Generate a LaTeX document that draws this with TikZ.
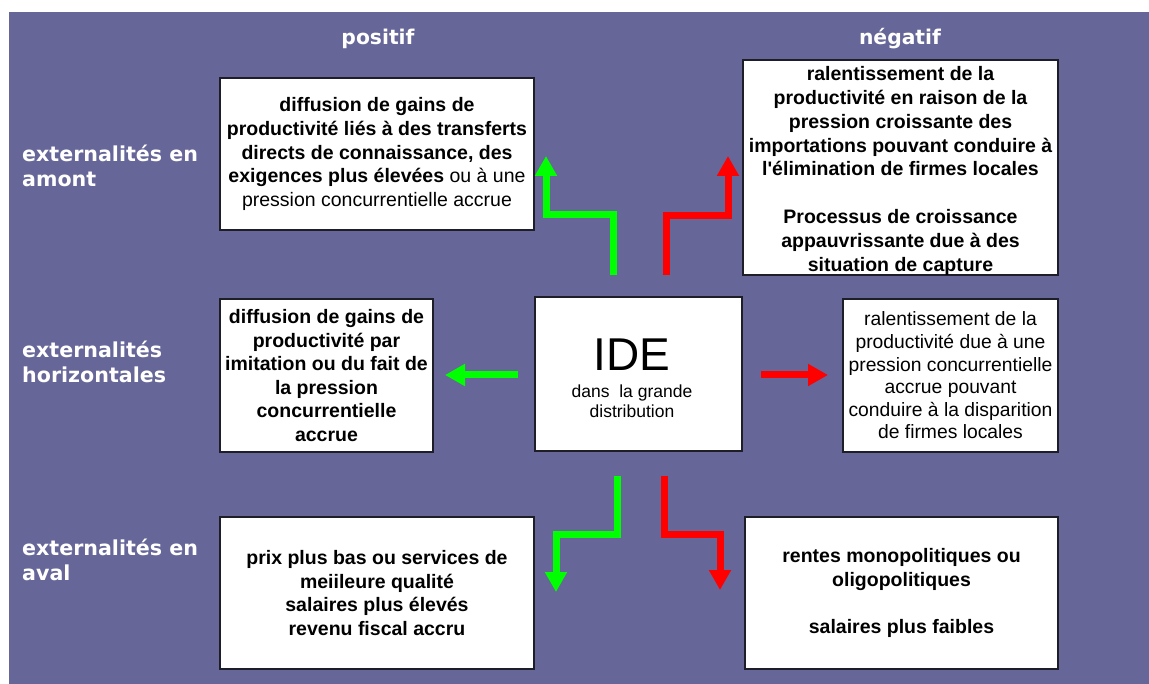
\documentclass[tikz,border=0pt]{standalone}
\usepackage{fontspec}
\setmainfont{Liberation Sans}
\newfontfamily\labelfont{DejaVu Sans}
\usetikzlibrary{arrows.meta}
\definecolor{bgpurple}{RGB}{102,102,153}
\definecolor{arrgreen}{RGB}{0,255,0}
\definecolor{arrred}{RGB}{255,0,0}
\definecolor{boxline}{RGB}{30,30,40}
\begin{document}
\begin{tikzpicture}[x=1pt,y=-1pt,
  box/.style={draw=boxline, line width=1.5pt, fill=white, inner sep=0pt, align=center,
    font=\fontsize{19.5}{23.6}\selectfont\bfseries, text=black},
  regbox/.style={box, font=\fontsize{19.3}{22.6}\selectfont\mdseries},
  lbl/.style={text=white, font=\fontsize{20.6}{25}\labelfont\bfseries, inner sep=0pt, anchor=base west},
  hdr/.style={text=white, font=\fontsize{20.3}{25}\labelfont\bfseries, inner sep=0pt, anchor=base},
  garrow/.style={draw=arrgreen, line width=7pt, line join=miter, -{Triangle[width=21pt,length=20pt]}},
  rarrow/.style={draw=arrred, line width=7pt, line join=miter, -{Triangle[width=21pt,length=20pt]}}
]
\useasboundingbox (0,0) rectangle (1149,684);
\fill[bgpurple] (9,12) rectangle (1149,684);

% headers
\node[hdr] (hpos) at (378,45) {positif};
\node[hdr] (hneg) at (900,45) {négatif};

% row labels
\node[lbl] (l1a) at (22,162) {externalités en};
\node[lbl] (l1b) at (22,187) {amont};
\node[lbl] (l2a) at (22,358) {externalités};
\node[lbl] (l2b) at (22,383) {horizontales};
\node[lbl] (l3a) at (22,555) {externalités en};
\node[lbl] (l3b) at (22,580) {aval};

% boxes
\node[box, minimum width=314pt, minimum height=152pt] (tl) at (377,154)
  {diffusion de gains de\\productivité liés à des transferts\\directs de connaissance, des\\exigences plus élevées {\mdseries ou à une}\\{\mdseries pression concurrentielle accrue}};
\node[box, minimum width=315pt, minimum height=215pt, font=\fontsize{19.5}{23.8}\selectfont\bfseries] (tr) at (900.5,167.5)
  {\rule{0pt}{21pt}ralentissement de la\\productivité en raison de la\\pression croissante des\\importations pouvant conduire à\\l\textquotesingle élimination de firmes locales\\[23.8pt]Processus de croissance\\appauvrissante due à des\\situation de capture};
\node[box, minimum width=213pt, minimum height=153pt] (ml) at (326.5,375.5)
  {diffusion de gains de\\productivité par\\imitation ou du fait de\\la pression\\concurrentielle\\accrue};
\node[box, minimum width=207pt, minimum height=154pt] (ctr) at (638.5,374) {};
\node[regbox, minimum width=215pt, minimum height=153pt] (mr) at (950.5,375.5)
  {ralentissement de la\\productivité due à une\\pression concurrentielle\\accrue pouvant\\conduire à la disparition\\de firmes locales};
\node[box, minimum width=314pt, minimum height=152pt] (bl) at (377,593)
  {prix plus bas ou services de\\meiileure qualité\\salaires plus élevés\\revenu fiscal accru};
\node[box, minimum width=313pt, minimum height=152pt] (br) at (901.5,593)
  {rentes monopolitiques ou\\oligopolitiques\\[23.6pt]salaires plus faibles};

% centre text
\node[inner sep=0pt, anchor=base, font=\fontsize{46}{46}\selectfont] (ide) at (632,370.5) {IDE};
\node[inner sep=0pt, anchor=base, font=\fontsize{17.5}{20}\selectfont] (ide2) at (632,398) {dans\ \ la grande};
\node[inner sep=0pt, anchor=base, font=\fontsize{17.5}{20}\selectfont] (ide3) at (632,418) {distribution};

% arrow coordinates
\coordinate (gu0) at (613,275); \coordinate (gu1) at (613,215);
\coordinate (gu2) at (546,215); \coordinate (gu3) at (546,156);
\coordinate (ru0) at (666,275); \coordinate (ru1) at (666,216);
\coordinate (ru2) at (728,216); \coordinate (ru3) at (728,156);
\coordinate (gd0) at (617,476); \coordinate (gd1) at (617,534);
\coordinate (gd2) at (556,534); \coordinate (gd3) at (556,592);
\coordinate (rd0) at (664,476); \coordinate (rd1) at (664,534);
\coordinate (rd2) at (720,534); \coordinate (rd3) at (720,590);
\coordinate (gl0) at (518,375); \coordinate (gl1) at (445,375);
\coordinate (rr0) at (761,375); \coordinate (rr1) at (828,375);

\draw[garrow] (gu0) -- (gu1) -- (gu2) -- (gu3);
\draw[rarrow] (ru0) -- (ru1) -- (ru2) -- (ru3);
\draw[garrow] (gd0) -- (gd1) -- (gd2) -- (gd3);
\draw[rarrow] (rd0) -- (rd1) -- (rd2) -- (rd3);
\draw[garrow] (gl0) -- (gl1);
\draw[rarrow] (rr0) -- (rr1);
\end{tikzpicture}
\end{document}
